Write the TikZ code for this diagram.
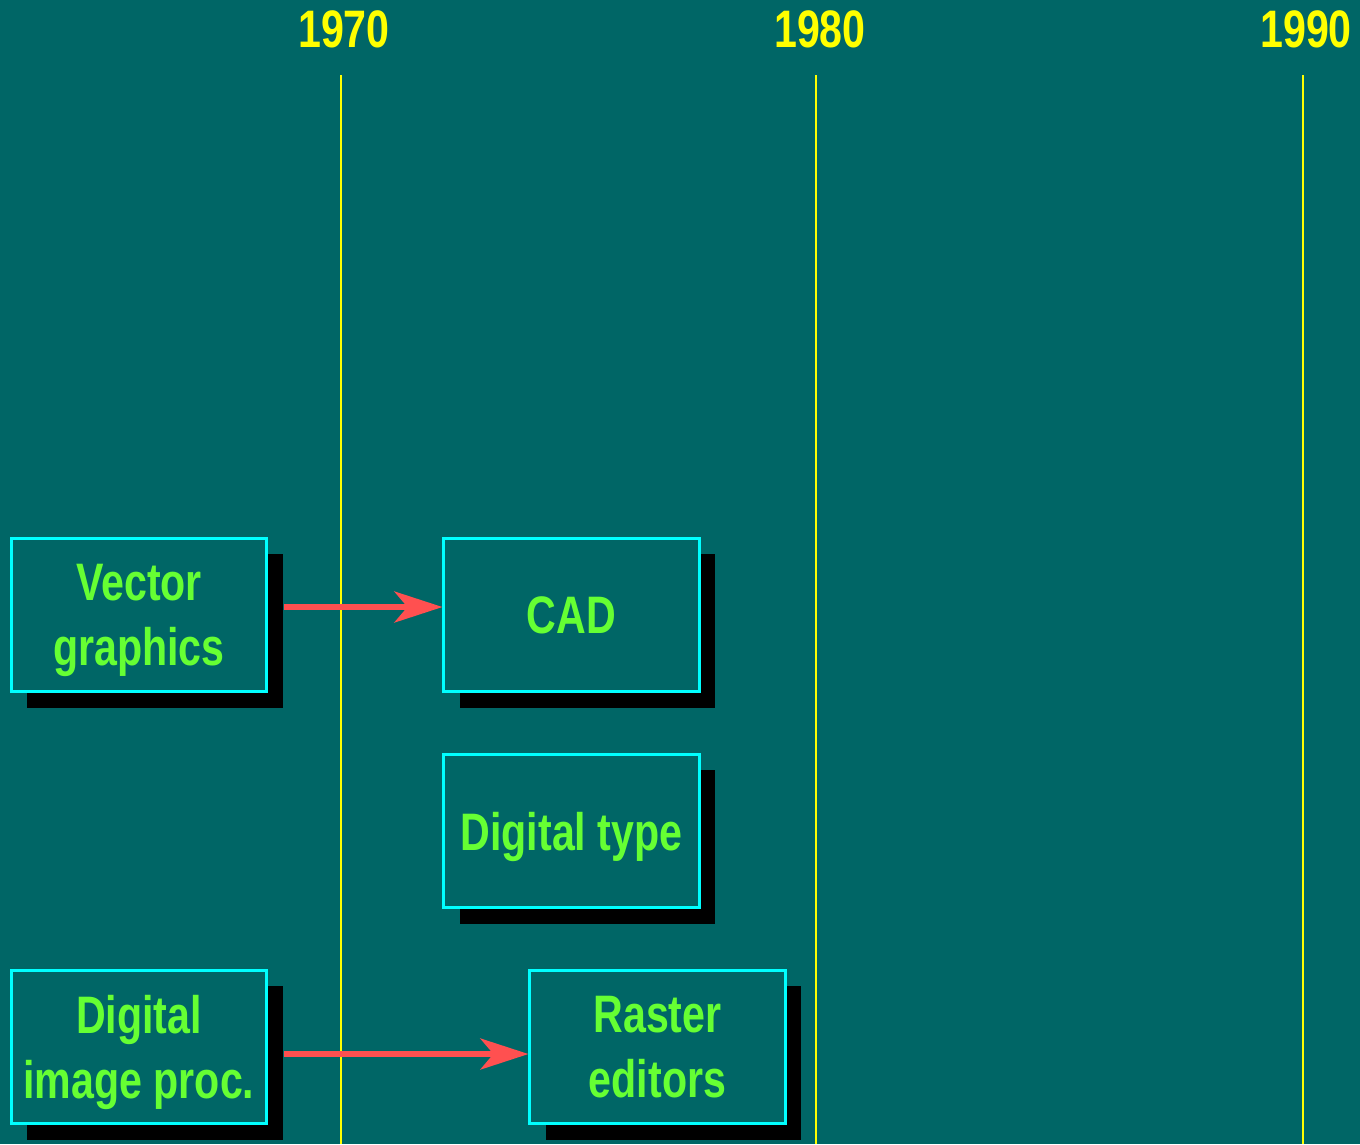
\documentclass[tikz,border=0pt]{standalone}
\usepackage{fontspec}
\setmainfont{Liberation Sans}[FakeStretch=0.78]
\usetikzlibrary{arrows.meta,shadows}
\definecolor{bgteal}{RGB}{0,102,102}
\definecolor{boxline}{RGB}{0,255,255}
\definecolor{boxtext}{RGB}{102,255,51}
\definecolor{flowred}{RGB}{255,80,80}
\definecolor{yearyellow}{RGB}{255,255,0}
\tikzset{
  topic/.style={draw=boxline, line width=0.85pt, fill=bgteal,
    minimum width=2.55cm, minimum height=1.53cm, inner sep=0pt,
    align=center, text=boxtext, text depth=0pt,
    font=\fontsize{15}{18.5}\selectfont\bfseries,
    drop shadow={shadow xshift=0.16cm, shadow yshift=-0.16cm,
      fill=black, opacity=1}},
  year/.style={text=yearyellow, font=\fontsize{15}{18}\selectfont\bfseries},
  yearline/.style={draw=yearyellow, line width=0.6pt},
  flow/.style={draw=flowred, line width=1.5pt,
    -{Stealth[length=0.48cm, width=0.31cm, inset=0.13cm]}}
}
\begin{document}
\begin{tikzpicture}[x=0.01cm, y=-0.01cm]
  \fill[bgteal] (0,0) rectangle (1360,1144);
  \useasboundingbox (0,0) rectangle (1360,1144);
  % time axis
  \node[year] (y70) at (344,29) {1970};
  \node[year] (y80) at (820,29) {1980};
  \node[year] (y90) at (1306,29) {1990};
  \draw[yearline] (341,75) -- (341,1144);
  \draw[yearline] (816,75) -- (816,1144);
  \draw[yearline] (1303,75) -- (1303,1144);
  % topics
  \node[topic] (vector) at (139,615) {Vector\\graphics};
  \node[topic] (cad) at (571.5,615) {CAD};
  \node[topic] (dtype) at (571.5,831) {Digital type};
  \node[topic] (dip) at (139,1047) {Digital\\image proc.};
  \node[topic] (raster) at (657.5,1047) {Raster\\editors};
  % influences
  \draw[flow] ([shift={(16,-8)}]vector.east) -- ([shift={(0,-8)}]cad.west);
  \draw[flow] ([shift={(16,7)}]dip.east) -- ([shift={(0,7)}]raster.west);
\end{tikzpicture}
\end{document}
